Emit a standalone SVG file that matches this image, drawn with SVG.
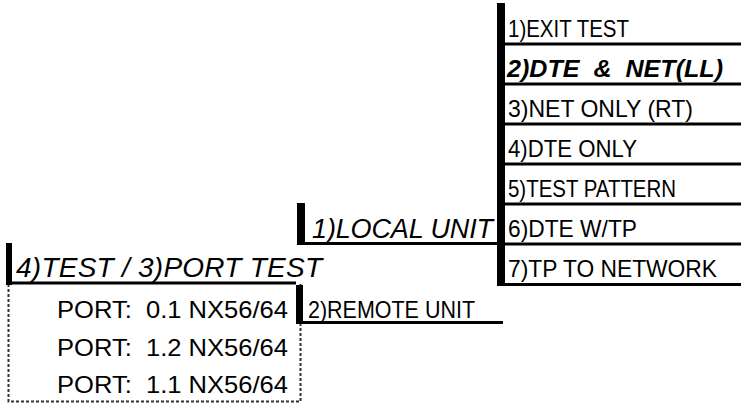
<svg xmlns="http://www.w3.org/2000/svg" width="741" height="404" viewBox="0 0 741 404">
<style>
.t{font-family:"Liberation Sans",Arial,sans-serif;font-size:24px;fill:#000;white-space:pre}
.ti{font-family:"Liberation Sans",Arial,sans-serif;font-style:italic;fill:#000;white-space:pre}
.tb{font-family:"Liberation Sans",Arial,sans-serif;font-size:23px;font-weight:bold;font-style:italic;fill:#000;white-space:pre}
.bar{fill:#000}
.ln{stroke:#000;stroke-width:3;fill:none}
.dash{stroke:#333;stroke-width:2;fill:none;stroke-dasharray:3 2}
</style>
<rect width="741" height="404" fill="#fff"/>
<g id="port-list">
<path class="dash" d="M8.5 284 V401.5 H300.5 V284"/>
<text class="t" x="57" y="318" textLength="231" lengthAdjust="spacingAndGlyphs">PORT:  0.1 NX56/64</text>
<text class="t" x="57" y="356" textLength="231" lengthAdjust="spacingAndGlyphs">PORT:  1.2 NX56/64</text>
<text class="t" x="57" y="393" textLength="231" lengthAdjust="spacingAndGlyphs">PORT:  1.1 NX56/64</text>
</g>
<g id="test-port">
<rect class="bar" x="6" y="243" width="6" height="42"/>
<line class="ln" x1="6" y1="283" x2="296" y2="283"/>
<text class="ti" x="16" y="277" font-size="28" textLength="306">4)TEST / 3)PORT TEST</text>
</g>
<g id="remote-unit">
<rect class="bar" x="296" y="285" width="7" height="39"/>
<line class="ln" x1="296" y1="322.5" x2="503" y2="322.5"/>
<text class="t" x="308" y="318" textLength="167" lengthAdjust="spacingAndGlyphs">2)REMOTE UNIT</text>
</g>
<g id="local-unit">
<rect class="bar" x="297" y="203" width="8" height="42"/>
<line class="ln" x1="297" y1="243.5" x2="497" y2="243.5"/>
<text class="ti" x="312" y="238" font-size="27" textLength="181">1)LOCAL UNIT</text>
</g>
<g id="menu">
<rect class="bar" x="497" y="3" width="8" height="283"/>
<g id="item1"><text class="t" x="508" y="37" textLength="121" lengthAdjust="spacingAndGlyphs">1)EXIT TEST</text><line class="ln" x1="497" y1="44" x2="741" y2="44"/></g>
<g id="item2"><text class="tb" x="507" y="77" textLength="216" lengthAdjust="spacingAndGlyphs">2)DTE  &amp;  NET(LL)</text><line class="ln" x1="497" y1="84" x2="741" y2="84"/></g>
<g id="item3"><text class="t" x="508" y="117" textLength="185" lengthAdjust="spacingAndGlyphs">3)NET ONLY (RT)</text><line class="ln" x1="497" y1="124" x2="741" y2="124"/></g>
<g id="item4"><text class="t" x="508" y="157" textLength="129" lengthAdjust="spacingAndGlyphs">4)DTE ONLY</text><line class="ln" x1="497" y1="164" x2="741" y2="164"/></g>
<g id="item5"><text class="t" x="508" y="197" textLength="168" lengthAdjust="spacingAndGlyphs">5)TEST PATTERN</text><line class="ln" x1="497" y1="204" x2="741" y2="204"/></g>
<g id="item6"><text class="t" x="508" y="237" textLength="129" lengthAdjust="spacingAndGlyphs">6)DTE W/TP</text><line class="ln" x1="497" y1="244" x2="741" y2="244"/></g>
<g id="item7"><text class="t" x="508" y="277" textLength="209" lengthAdjust="spacingAndGlyphs">7)TP TO NETWORK</text><line class="ln" x1="497" y1="284.5" x2="741" y2="284.5"/></g>
</g>
<g id="connectors"></g>
</svg>
